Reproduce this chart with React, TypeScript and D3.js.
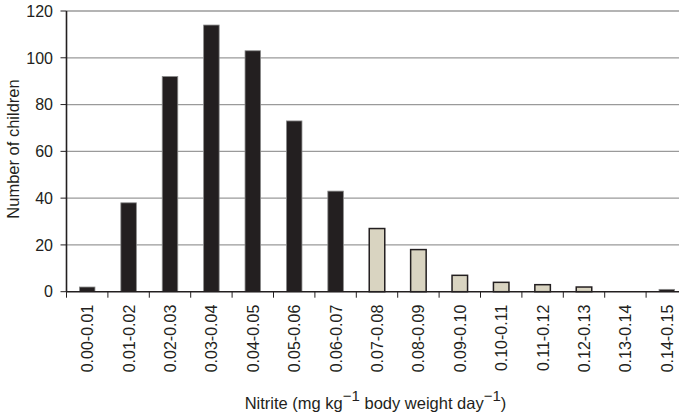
import React, { useEffect, useRef } from "react";
import * as d3 from "d3";

// nitrite intake bins (mg kg-1 body weight day-1)
const categories = [
  "0.00-0.01", "0.01-0.02", "0.02-0.03", "0.03-0.04", "0.04-0.05",
  "0.05-0.06", "0.06-0.07", "0.07-0.08", "0.08-0.09", "0.09-0.10",
  "0.10-0.11", "0.11-0.12", "0.12-0.13", "0.13-0.14", "0.14-0.15"
];
const counts = [2, 38, 92, 114, 103, 73, 43, 27, 18, 7, 4, 3, 2, 0, 1];
// 1 = light (highlighted) bar, 0 = dark bar
const highlight = [0, 0, 0, 0, 0, 0, 0, 1, 1, 1, 1, 1, 1, 0, 0];
const yTicks = [0, 20, 40, 60, 80, 100, 120];

const W = 679;
const H = 416;
const FONT = "'Liberation Sans', Arial, Helvetica, sans-serif";

export default function App() {
  const ref = useRef<SVGSVGElement>(null);

  useEffect(() => {
    const svg = d3.select(ref.current);
    svg.selectAll("*").remove();

    const left = 66.5;
    const step = 41.4;
    const top = 11;
    const bottom = 291.7;

    const x = d3
      .scaleBand<string>()
      .domain(categories)
      .range([left, left + step * categories.length])
      .padding(0);

    const y = d3.scaleLinear().domain([0, 120]).range([bottom, top]);

    // gridlines
    svg
      .selectAll(".grid")
      .data(yTicks.filter(d => d > 0))
      .enter()
      .append("line")
      .attr("x1", left)
      .attr("x2", W)
      .attr("y1", d => y(d))
      .attr("y2", d => y(d))
      .attr("stroke", d => (d === 120 ? "#b4b4b4" : "#9a9a9a"))
      .attr("stroke-width", d => (d === 120 ? 2 : 1.2));

    // bars
    const bw = x.bandwidth() * 0.375;
    svg
      .selectAll(".bar")
      .data(categories)
      .enter()
      .append("rect")
      .attr("x", d => (x(d) as number) + (x.bandwidth() - bw) / 2)
      .attr("y", (d, i) => y(counts[i]))
      .attr("width", bw)
      .attr("height", (d, i) => y(0) - y(counts[i]))
      .attr("fill", (d, i) => (highlight[i] ? "#d9d4c1" : "#231f20"))
      .attr("stroke", (d, i) => (highlight[i] ? "#231f20" : "#8a8a8a"))
      .attr("stroke-width", (d, i) => (highlight[i] ? 1.5 : 0.8));

    // y axis line
    svg
      .append("line")
      .attr("x1", left)
      .attr("x2", left)
      .attr("y1", top)
      .attr("y2", bottom)
      .attr("stroke", "#231f20")
      .attr("stroke-width", 1.6);

    // y ticks + labels
    const yg = svg.append("g");
    yTicks.forEach(t => {
      yg.append("line")
        .attr("x1", left - 6)
        .attr("x2", left)
        .attr("y1", y(t))
        .attr("y2", y(t))
        .attr("stroke", "#231f20")
        .attr("stroke-width", 1);
      yg.append("text")
        .attr("x", 53)
        .attr("y", y(t))
        .attr("dy", "0.36em")
        .attr("text-anchor", "end")
        .attr("font-family", FONT)
        .attr("font-size", 16)
        .attr("fill", "#231f20")
        .text(t);
    });

    // x axis line
    svg
      .append("line")
      .attr("x1", left)
      .attr("x2", W)
      .attr("y1", bottom)
      .attr("y2", bottom)
      .attr("stroke", "#231f20")
      .attr("stroke-width", 1.6);

    // x ticks at bin boundaries
    const edges = categories.map(c => x(c) as number);
    svg
      .selectAll(".xtick")
      .data(edges.concat([left + step * categories.length]))
      .enter()
      .append("line")
      .attr("x1", d => d)
      .attr("x2", d => d)
      .attr("y1", bottom)
      .attr("y2", bottom + 6)
      .attr("stroke", "#231f20")
      .attr("stroke-width", 1);

    // x tick labels (rotated)
    svg
      .selectAll(".xlab")
      .data(categories)
      .enter()
      .append("text")
      .attr(
        "transform",
        d => `translate(${(x(d) as number) + x.bandwidth() / 2 + 6},${bottom + 13}) rotate(-90)`
      )
      .attr("text-anchor", "end")
      .attr("font-family", FONT)
      .attr("font-size", 16)
      .attr("fill", "#231f20")
      .text(d => d);

    // y title
    svg
      .append("text")
      .attr("transform", `translate(19,149) rotate(-90)`)
      .attr("text-anchor", "middle")
      .attr("font-family", FONT)
      .attr("font-size", 16.5)
      .attr("fill", "#231f20")
      .text("Number of children");

    // x title with superscripts
    const xt = svg
      .append("text")
      .attr("x", 375.5)
      .attr("y", 409)
      .attr("text-anchor", "middle")
      .attr("font-family", FONT)
      .attr("font-size", 16.5)
      .attr("fill", "#231f20");
    xt.append("tspan").text("Nitrite (mg kg");
    xt.append("tspan").attr("dy", -8).attr("font-size", 15).text("\u22121");
    xt.append("tspan").attr("dy", 8).text(" body weight day");
    xt.append("tspan").attr("dy", -8).attr("font-size", 15).text("\u22121");
    xt.append("tspan").attr("dy", 8).text(")");
  }, []);

  return (
    <svg
      ref={ref}
      width={W}
      height={H}
      style={{ position: "absolute", left: 0, top: 0, background: "#fff" }}
    />
  );
}
